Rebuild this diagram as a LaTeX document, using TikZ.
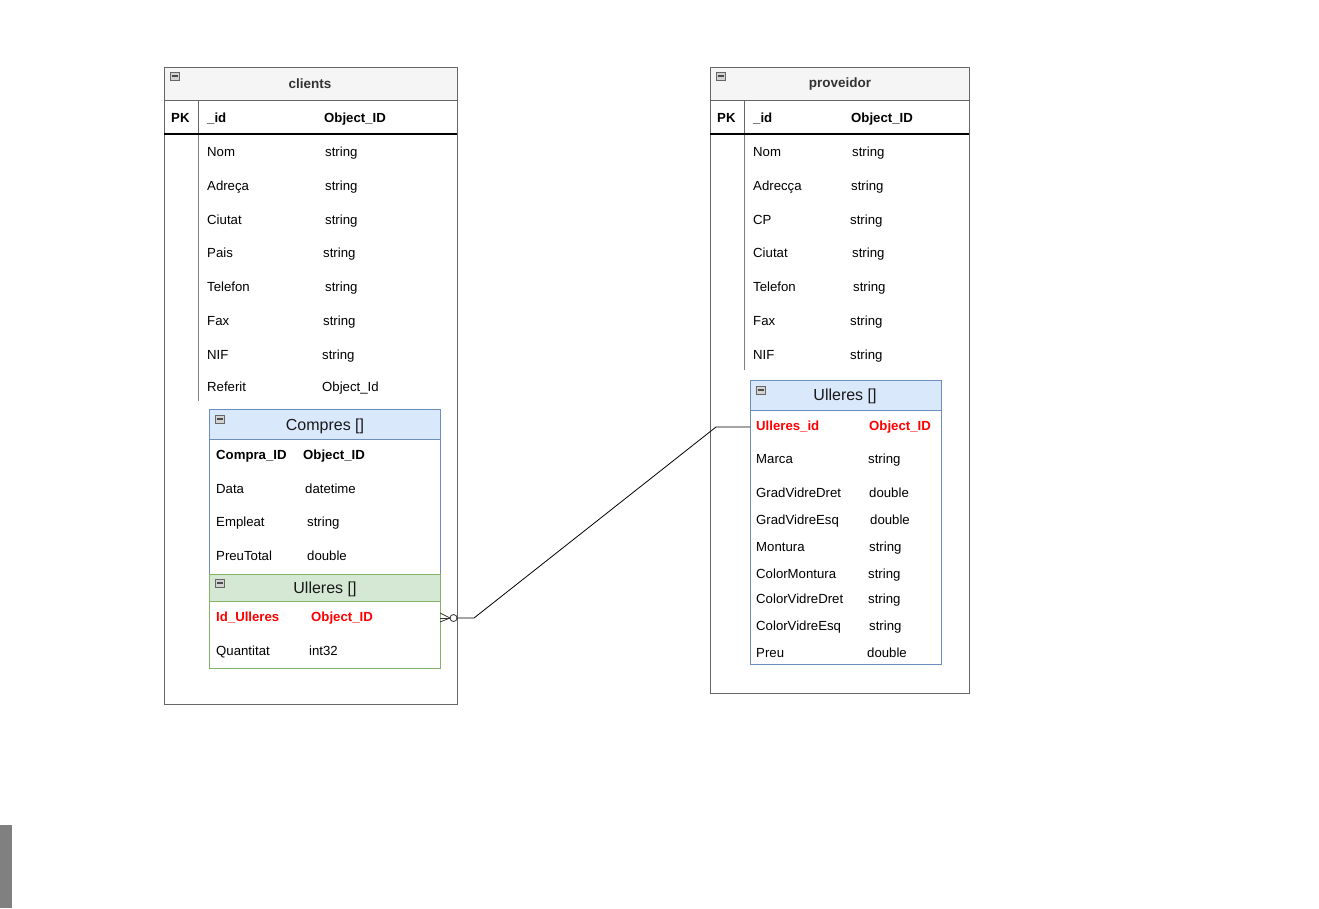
\documentclass[tikz,border=0pt]{standalone}
\usepackage{fontspec}
\setmainfont{Liberation Sans}
\usepackage{tikz}
\usetikzlibrary{calc}
\definecolor{hdrfill}{HTML}{F5F5F5}
\definecolor{boxline}{HTML}{666666}
\definecolor{bluefill}{HTML}{DAE8FC}
\definecolor{blueline}{HTML}{6C8EBF}
\definecolor{greenfill}{HTML}{D5E8D4}
\definecolor{greenline}{HTML}{82B366}
\definecolor{keyred}{HTML}{FF0000}
\def\collapsebox(#1,#2){\draw[boxline, fill=gray!35, line width=0.6pt] (#1,#2) rectangle ++(9,8); \draw[black!70, line width=1.2pt] (#1+1.5,#2+4) -- ++(6,0);}
\tikzset{
  fld/.style={anchor=west, inner sep=0pt, yshift=-1pt, text height=10pt, text depth=1pt, font=\fontsize{13.2}{15}\selectfont},
  key/.style={fld, font=\bfseries\fontsize{13.2}{15}\selectfont},
  fkey/.style={key, text=keyred},
  ttl/.style={inner sep=0pt, yshift=-1pt, text=black!80, font=\bfseries\fontsize{13.5}{16}\selectfont},
  subttl/.style={inner sep=0pt, yshift=-1.5pt, text=black!90, font=\fontsize{16}{19}\selectfont}
}

\begin{document}
\begin{tikzpicture}[x=1pt, y=-1pt]
				\useasboundingbox (0,0) rectangle (1319,908);
				\fill[gray] (0,825) rectangle (12,908);
				
				% clients
				\draw[boxline, line width=1pt] (164,67) rectangle (457,704);
				\draw[boxline, fill=hdrfill, line width=1pt] (164,67) rectangle (457,100);
				\collapsebox(170,72)
				\node[ttl] (clTitle) at (310,83) {clients};
				\draw[boxline, line width=1pt] (198,100) -- (198,134);
				\draw[gray, line width=0.8pt] (198,134) -- (198,401);
				\draw[black, line width=1.3pt] (164,134) -- (457,134);
				\node[key] (clPK) at (171,117) {PK};
				\node[key] (clId) at (207,117) {\_id};
				\node[key] (clIdT) at (324,117) {Object\_ID};
				\node[fld] (clNom) at (207,151) {Nom};
				\node[fld] (clNomT) at (325,151) {string};
				\node[fld] (clAdr) at (207,185) {Adreça};
				\node[fld] (clAdrT) at (325,185) {string};
				\node[fld] (clCiu) at (207,219) {Ciutat};
				\node[fld] (clCiuT) at (325,219) {string};
				\node[fld] (clPais) at (207,252) {Pais};
				\node[fld] (clPaisT) at (323,252) {string};
				\node[fld] (clTel) at (207,286) {Telefon};
				\node[fld] (clTelT) at (325,286) {string};
				\node[fld] (clFax) at (207,320) {Fax};
				\node[fld] (clFaxT) at (323,320) {string};
				\node[fld] (clNif) at (207,354) {NIF};
				\node[fld] (clNifT) at (322,354) {string};
				\node[fld] (clRef) at (207,386) {Referit};
				\node[fld] (clRefT) at (322,386) {Object\_Id};
				
				% Compres []
				\draw[blueline, line width=1pt] (209,409) rectangle (440,574);
				\draw[blueline, fill=bluefill, line width=1pt] (209,409) rectangle (440,439);
				\collapsebox(215,415)
				\node[subttl] (coTitle) at (325,425) {Compres []};
				\node[key] (coId) at (216,454) {Compra\_ID};
				\node[key] (coIdT) at (303,454) {Object\_ID};
				\node[fld] (coData) at (216,488) {Data};
				\node[fld] (coDataT) at (305,488) {datetime};
				\node[fld] (coEmp) at (216,521) {Empleat};
				\node[fld] (coEmpT) at (307,521) {string};
				\node[fld] (coPreu) at (216,555) {PreuTotal};
				\node[fld] (coPreuT) at (307,555) {double};
				
				% Ulleres [] dins Compres
				\draw[greenline, line width=1pt] (209,574) rectangle (440,668);
				\draw[greenline, fill=greenfill, line width=1pt] (209,574) rectangle (440,601);
				\collapsebox(215,579)
				\node[subttl] (cuTitle) at (325,588) {Ulleres []};
				\node[fkey] (cuId) at (216,616) {Id\_Ulleres};
				\node[fkey] (cuIdT) at (311,616) {Object\_ID};
				\node[fld] (cuQty) at (216,650) {Quantitat};
				\node[fld] (cuQtyT) at (309,650) {int32};
				\coordinate (cuEdge) at (440,617);
				
				% proveidor
				\draw[boxline, line width=1pt] (710,67) rectangle (969,693);
				\draw[boxline, fill=hdrfill, line width=1pt] (710,67) rectangle (969,100);
				\collapsebox(716,72)
				\node[ttl] (prTitle) at (840,83) {proveidor};
				\draw[boxline, line width=1pt] (744,100) -- (744,134);
				\draw[gray, line width=0.8pt] (744,134) -- (744,370);
				\draw[black, line width=1.3pt] (710,134) -- (969,134);
				\node[key] (prPK) at (717,117) {PK};
				\node[key] (prId) at (753,117) {\_id};
				\node[key] (prIdT) at (851,117) {Object\_ID};
				\node[fld] (prNom) at (753,151) {Nom};
				\node[fld] (prNomT) at (852,151) {string};
				\node[fld] (prAdr) at (753,185) {Adrecça};
				\node[fld] (prAdrT) at (851,185) {string};
				\node[fld] (prCP) at (753,219) {CP};
				\node[fld] (prCPT) at (850,219) {string};
				\node[fld] (prCiu) at (753,252) {Ciutat};
				\node[fld] (prCiuT) at (852,252) {string};
				\node[fld] (prTel) at (753,286) {Telefon};
				\node[fld] (prTelT) at (853,286) {string};
				\node[fld] (prFax) at (753,320) {Fax};
				\node[fld] (prFaxT) at (850,320) {string};
				\node[fld] (prNif) at (753,354) {NIF};
				\node[fld] (prNifT) at (850,354) {string};
				
				% Ulleres [] dins proveidor
				\draw[blueline, line width=1pt] (750,380) rectangle (941,664);
				\draw[blueline, fill=bluefill, line width=1pt] (750,380) rectangle (941,410);
				\collapsebox(756,386)
				\node[subttl] (puTitle) at (845,395) {Ulleres []};
				\node[fkey] (puId) at (756,425) {Ulleres\_id};
				\node[fkey] (puIdT) at (869,425) {Object\_ID};
				\node[fld] (puMarca) at (756,458) {Marca};
				\node[fld] (puMarcaT) at (868,458) {string};
				\node[fld] (puGdd) at (756,492) {GradVidreDret};
				\node[fld] (puGddT) at (869,492) {double};
				\node[fld] (puGde) at (756,519) {GradVidreEsq};
				\node[fld] (puGdeT) at (870,519) {double};
				\node[fld] (puMont) at (756,546) {Montura};
				\node[fld] (puMontT) at (869,546) {string};
				\node[fld] (puCm) at (756,573) {ColorMontura};
				\node[fld] (puCmT) at (868,573) {string};
				\node[fld] (puCvd) at (756,598) {ColorVidreDret};
				\node[fld] (puCvdT) at (868,598) {string};
				\node[fld] (puCve) at (756,625) {ColorVidreEsq};
				\node[fld] (puCveT) at (869,625) {string};
				\node[fld] (puPreu) at (756,652) {Preu};
				\node[fld] (puPreuT) at (867,652) {double};
				\coordinate (puEdge) at (750,427);
				
				% relacio
				\draw[black, line width=0.8pt] (puEdge) -- ++(-34,0) -- ($(cuEdge)+(34,1)$) -- ($(cuEdge)+(17,1)$);
				\draw[black!80, line width=0.8pt, fill=white] ($(cuEdge)+(13.5,1)$) circle (3.5);
				\draw[black!80, line width=0.8pt] ($(cuEdge)+(0,-4)$) -- ($(cuEdge)+(10,1)$) -- ($(cuEdge)+(0,5)$);
				\draw[black!80, line width=0.8pt] ($(cuEdge)+(0,1)$) -- ($(cuEdge)+(10,1)$);
			\end{tikzpicture}
\end{document}
